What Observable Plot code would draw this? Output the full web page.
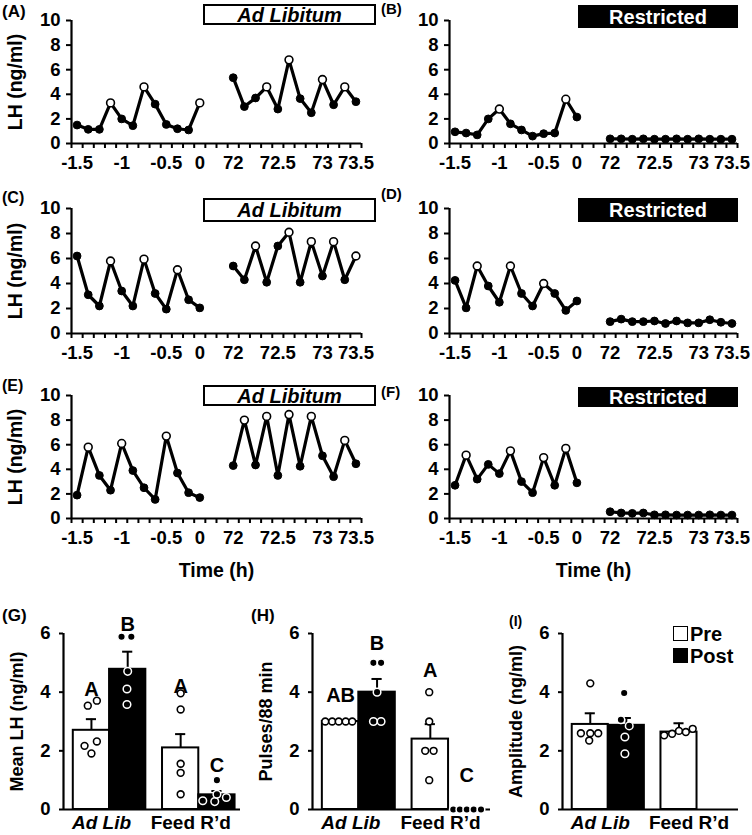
<!DOCTYPE html>
<html><head><meta charset="utf-8">
<script src="https://cdn.jsdelivr.net/npm/d3@7"></script>
<script src="https://cdn.jsdelivr.net/npm/@observablehq/plot@0.6"></script>
<style>
body{margin:0;background:#fff;}
#root{position:relative;width:752px;height:835px;font-family:"Liberation Sans",Arial,sans-serif;font-weight:bold;overflow:hidden;}
.lab{position:absolute;font-weight:bold;line-height:1;white-space:nowrap;}
.box{position:absolute;box-sizing:border-box;display:flex;align-items:center;justify-content:center;font-size:20px;font-weight:bold;line-height:1;}
.adlib{border:2px solid #000;background:#fff;font-style:italic;}
.restr{background:#000;color:#fff;}
.sw{position:absolute;box-sizing:border-box;width:15px;height:15px;border:1.5px solid #000;}
</style></head><body><div id="root"></div>
<script>
// ---------- DATA ----------
// x category axis (Excel style): 12 pre samples, 2 empty slots, 12 post samples (8-min sampling)
const xCats = ["-1.5","","","","-1","","","","-0.5","","","0","","","72","","","","72.5","","","","73","","","73.5"];
const lhTicks = [0, 2, 4, 6, 8, 10];
const barTicks = [0, 2, 4, 6];

// LH (ng/ml) per panel, pre (-88..0 min) and post (72 h ..) segments
const lhA_pre  = [1.5, 1.15, 1.15, 3.3, 2.0, 1.45, 4.6, 3.2, 1.55, 1.2, 1.1, 3.3];
const lhA_post = [5.35, 3.0, 3.7, 4.6, 2.8, 6.8, 3.65, 2.5, 5.2, 3.15, 4.6, 3.4];
const lhB_pre  = [0.95, 0.85, 0.7, 2.0, 2.8, 1.6, 1.1, 0.6, 0.8, 0.85, 3.6, 2.15];
const lhB_post = [0.38, 0.38, 0.35, 0.38, 0.35, 0.35, 0.38, 0.35, 0.38, 0.35, 0.35, 0.35];
const lhC_pre  = [6.2, 3.1, 2.2, 5.8, 3.4, 2.2, 5.95, 3.2, 1.95, 5.1, 2.7, 2.05];
const lhC_post = [5.4, 4.3, 7.0, 4.1, 7.0, 8.1, 4.1, 7.35, 4.6, 7.35, 4.3, 6.2];
const lhD_pre  = [4.25, 2.05, 5.4, 3.8, 2.5, 5.4, 3.2, 2.2, 4.0, 3.2, 1.85, 2.6];
const lhD_post = [0.95, 1.15, 0.95, 0.95, 1.0, 0.8, 1.0, 0.85, 0.85, 1.1, 0.9, 0.8];
const lhE_pre  = [1.9, 5.8, 3.5, 2.3, 6.1, 3.9, 2.5, 1.55, 6.7, 3.7, 2.1, 1.7];
const lhE_post = [4.3, 8.0, 4.35, 8.3, 3.5, 8.45, 4.25, 8.3, 5.1, 3.4, 6.35, 4.45];
const lhF_pre  = [2.7, 5.15, 3.2, 4.4, 3.65, 5.5, 3.0, 2.1, 4.95, 2.7, 5.7, 2.9];
const lhF_post = [0.55, 0.45, 0.42, 0.45, 0.3, 0.3, 0.28, 0.28, 0.28, 0.3, 0.28, 0.28];

// sample indices identified as pulse peaks (open circles)
const peaksA_pre = [3, 6, 11], peaksA_post = [3, 5, 8, 10];
const peaksB_pre = [4, 10],    peaksB_post = [];
const peaksC_pre = [3, 6, 9],  peaksC_post = [2, 5, 7, 9, 11];
const peaksD_pre = [2, 5, 8],  peaksD_post = [];
const peaksE_pre = [1, 4, 8],  peaksE_post = [1, 3, 5, 7, 10];
const peaksF_pre = [1, 5, 8, 10], peaksF_post = [];

// bar summaries: order = [Ad Lib Pre, Ad Lib Post, Feed R'd Pre, Feed R'd Post]
const groups = ["Ad Lib", "Feed R\u2019d"];
const phases = ["Pre", "Post"];
const meanLH = [2.7, 4.78, 2.1, 0.5];
const semLH  = [0.38, 0.6, 0.47, 0.13];
const ptsLH  = [[3.54, 3.71, 2.17, 2.32, 1.91], [5.89, 5.89, 4.71, 4.11, 3.58],
                [3.96, 3.41, 1.56, 1.25, 0.52], [1.0, 0.3, 0.27, 0.52, 0.41]];
const jitLH  = [[-0.1, 0.15, -0.19, 0.15, 0], [-0.17, 0.1, 0, -0.02, -0.02],
                [0, 0, 0, 0, 0], [0, -0.39, -0.06, 0, 0.26]];
const letLH  = ["A", "B", "A", "C"];
const letYLH = [4.1, 6.3, 4.2, 1.5];

const meanPulses = [3.0, 4.0, 2.4, 0];
const semPulses  = [0, 0.45, 0.51, 0];
const ptsPulses  = [[3, 3, 3, 3, 3], [5, 5, 4, 3, 3], [4, 3, 2, 2, 1], [0, 0, 0, 0, 0]];
const jitPulses  = [[-0.42, -0.23, -0.05, 0.14, 0.32], [-0.1, 0.11, 0, -0.1, 0.11],
                    [-0.03, -0.03, -0.14, 0.09, -0.03], [-0.37, -0.19, 0, 0.19, 0.39]];
const letPulses  = ["AB", "B", "A", "C"];
const letYPulses = [3.9, 5.65, 4.75, 1.15];

const meanAmp = [2.9, 2.87, 2.64, 0];
const semAmp  = [0.38, 0.25, 0.3, 0];
const ptsAmp  = [[4.3, 2.6, 2.6, 2.35, 2.6], [3.97, 3.06, 2.85, 2.47, 1.9],
                 [2.53, 2.58, 2.68, 2.64, 2.75], []];
const jitAmp  = [[0, -0.26, 0, -0.03, 0.22], [-0.06, -0.15, 0.08, -0.04, -0.04],
                 [-0.41, -0.19, 0, 0.19, 0.38], []];

// ---------- LAYOUT / DRAW ----------
const FONT = '"Liberation Sans", Arial, Helvetica, sans-serif';
const root = document.getElementById("root");
function place(el, left, top, w) {
  const d = document.createElement("div");
  d.style.cssText = `position:absolute;left:${left}px;top:${top}px;width:${w}px;`;
  d.appendChild(el); root.appendChild(d);
}
function html(cls, text, css) {
  const d = document.createElement("div");
  d.className = cls; d.textContent = text; d.style.cssText = css; root.appendChild(d);
}
const nPre = 12, gapSlots = 2;

function linePanel(pre, post, prePeaks, postPeaks, o) {
  const rows = [
    ...pre.map((v, i) => ({slot: i, lh: v, seg: "pre", peak: prePeaks.includes(i)})),
    ...post.map((v, i) => ({slot: i + nPre + gapSlots, lh: v, seg: "post", peak: postPeaks.includes(i)}))
  ];
  const xDom = [-0.5, xCats.length - 0.5];
  const marks = [
    Plot.ruleY([0], {strokeWidth: 2.2}),
    Plot.ruleX([xDom[0]], {strokeWidth: 2.2}),
    Plot.axisY({ticks: lhTicks, tickSize: 5, tickPadding: 6, strokeWidth: 2, label: null, fontSize: 18.5, tickFormat: d => String(d)}),
    Plot.axisX({ticks: d3.range(xDom[0], xDom[1] + 0.01, 1), tickSize: 5, strokeWidth: 2, tickFormat: () => "", label: null}),
    Plot.axisX({ticks: d3.range(xCats.length).filter(i => xCats[i]), tickSize: 0, tickPadding: 12,
                tickFormat: i => xCats[i], label: null, fontSize: 18.5}),
    Plot.line(rows, {x: "slot", y: "lh", z: "seg", stroke: "black", strokeWidth: 3.2}),
    Plot.dot(rows.filter(d => !d.peak), {x: "slot", y: "lh", r: 3.9, fill: "black", stroke: "black", strokeWidth: 1}),
    Plot.dot(rows.filter(d => d.peak), {x: "slot", y: "lh", r: 3.9, fill: "white", stroke: "black", strokeWidth: 1.6})
  ];
  if (o.ylabel) marks.push(Plot.text([o.ylabel], {text: d => d, frameAnchor: "left", dx: -56, rotate: -90,
    textAnchor: "middle", lineAnchor: "middle", fontSize: 19.5}));
  if (o.xlabel) marks.push(Plot.text([o.xlabel], {text: d => d, frameAnchor: "bottom", dy: 52,
    textAnchor: "middle", lineAnchor: "middle", fontSize: 19.5}));
  const p = Plot.plot({
    width: o.width, height: o.height,
    marginLeft: o.mL, marginRight: o.mR, marginTop: o.mT, marginBottom: o.mB,
    x: {domain: xDom}, y: {domain: [0, 10]},
    style: {fontFamily: FONT, fontWeight: "bold", fontSize: "18px", background: "white", color: "black", overflow: "visible"},
    marks
  });
  place(p, o.left, o.top, o.width);
}

const slot0 = 0.77, groupStep = 2.46;
function barPanel(means, sems, pts, jit, letters, letY, o) {
  const bars = [];
  groups.forEach((g, gi) => phases.forEach((ph, pi) => {
    const k = gi * 2 + pi;
    bars.push({g, ph, c: slot0 + gi * groupStep + pi, mean: means[k], sem: sems[k],
               letter: letters ? letters[k] : null, ly: letY ? letY[k] : null});
  }));
  const dots = bars.flatMap((b, k) => pts[k].map((v, j) => ({x: b.c + jit[k][j], y: v, ph: b.ph})));
  const eb = bars.filter(b => b.sem > 0);
  const marks = [
    Plot.rect(bars.filter(b => b.mean > 0 && b.ph === "Pre"), {x1: b => b.c - 0.5, x2: b => b.c + 0.5, y1: 0, y2: "mean",
      fill: "white", stroke: "black", strokeWidth: 2}),
    Plot.rect(bars.filter(b => b.mean > 0 && b.ph === "Post"), {x1: b => b.c - 0.5, x2: b => b.c + 0.5, y1: 0, y2: "mean",
      fill: "black", stroke: "black", strokeWidth: 2}),
    Plot.ruleX(eb, {x: "c", y1: "mean", y2: b => b.mean + b.sem, strokeWidth: 2}),
    Plot.ruleY(eb, {y: b => b.mean + b.sem, x1: b => b.c - 0.14, x2: b => b.c + 0.14, strokeWidth: 2}),
    Plot.ruleY([0], {strokeWidth: 2.2}),
    Plot.ruleX([0], {strokeWidth: 2.2}),
    Plot.axisY({ticks: barTicks, tickSize: 4, tickPadding: 9, strokeWidth: 2, label: null, fontSize: 18.5, tickFormat: d => String(d)}),
    Plot.dot(dots.filter(d => d.ph === "Pre"), {x: "x", y: "y", r: 3.4, fill: "white", stroke: "black", strokeWidth: 1.6}),
    Plot.dot(dots.filter(d => d.ph === "Post"), {x: "x", y: "y", r: 3.8, fill: "black", stroke: "white", strokeWidth: 1.5}),
    Plot.text([groups[0]], {x: slot0 + 0.5, y: 0, dy: 6, dx: -8, text: d => d, lineAnchor: "top", fontSize: 19, fontStyle: "italic"}),
    Plot.text([groups[1]], {x: slot0 + groupStep + 0.5, y: 0, dy: 6, dx: -8, text: d => d, lineAnchor: "top", fontSize: 19}),
    Plot.text([o.ylabel], {text: d => d, frameAnchor: "left", dx: -46, rotate: -90, textAnchor: "middle", lineAnchor: "middle", fontSize: 18})
  ];
  if (letters) marks.push(Plot.text(bars.filter(b => b.letter), {x: "c", y: "ly", text: "letter", fontSize: 20}));
  const p = Plot.plot({
    width: o.width, height: o.height,
    marginLeft: o.mL, marginRight: o.mR, marginTop: 43, marginBottom: 26,
    x: {domain: [0, 4.88], axis: null}, y: {domain: [0, 6]},
    style: {fontFamily: FONT, fontWeight: "bold", fontSize: "18px", background: "white", color: "black", overflow: "visible"},
    marks
  });
  place(p, o.left, o.top, o.width);
}

// rows of line panels
const rowsCfg = [
  {top: 0, height: 175, mB: 32},
  {top: 188, height: 177, mB: 32},
  {top: 375, height: 205, mB: 62}
];
const leftCol = {left: 0, width: 375, mL: 71, mR: 14, mT: 20};
const rightCol = {left: 375, width: 377, mL: 74, mR: 15, mT: 20};
linePanel(lhA_pre, lhA_post, peaksA_pre, peaksA_post, {...leftCol, ...rowsCfg[0], ylabel: "LH (ng/ml)"});
linePanel(lhB_pre, lhB_post, peaksB_pre, peaksB_post, {...rightCol, ...rowsCfg[0]});
linePanel(lhC_pre, lhC_post, peaksC_pre, peaksC_post, {...leftCol, ...rowsCfg[1], ylabel: "LH (ng/ml)"});
linePanel(lhD_pre, lhD_post, peaksD_pre, peaksD_post, {...rightCol, ...rowsCfg[1]});
linePanel(lhE_pre, lhE_post, peaksE_pre, peaksE_post, {...leftCol, ...rowsCfg[2], ylabel: "LH (ng/ml)", xlabel: "Time (h)"});
linePanel(lhF_pre, lhF_post, peaksF_pre, peaksF_post, {...rightCol, ...rowsCfg[2], xlabel: "Time (h)"});

barPanel(meanLH, semLH, ptsLH, jitLH, letLH, letYLH, {left: 0, top: 590, width: 250, height: 245, mL: 63, mR: 10, ylabel: "Mean LH (ng/ml)"});
barPanel(meanPulses, semPulses, ptsPulses, jitPulses, letPulses, letYPulses, {left: 250, top: 590, width: 250, height: 245, mL: 62, mR: 10, ylabel: "Pulses/88 min"});
barPanel(meanAmp, semAmp, ptsAmp, jitAmp, null, null, {left: 500, top: 590, width: 252, height: 245, mL: 62, mR: 14, ylabel: "Amplitude (ng/ml)"});

// condition boxes
[[4, 25], [198, 222], [385, 406]].forEach(([t, b]) => {
  html("box adlib", "Ad Libitum", `left:203px;top:${t}px;width:173px;height:${b - t}px;`);
});
[[5, 28], [198, 222], [387, 407]].forEach(([t, b]) => {
  html("box restr", "Restricted", `left:578px;top:${t}px;width:160px;height:${b - t}px;`);
});
// panel letters
[["(A)", 2, 3, 17], ["(B)", 381, 1, 15], ["(C)", 2, 190, 16], ["(D)", 381, 186, 15],
 ["(E)", 2, 378, 16], ["(F)", 381, 384, 15], ["(G)", 2, 607, 17], ["(H)", 251, 607, 17], ["(I)", 509, 614, 14]]
.forEach(([t, x, y, fs]) => html("lab", t, `left:${x}px;top:${y}px;font-size:${fs}px;`));
// legend (panel I)
html("sw", "", "left:673px;top:626px;background:#fff;");
html("sw", "", "left:673px;top:648px;background:#000;");
html("lab", "Pre", "left:690px;top:624px;font-size:20px;");
html("lab", "Post", "left:690px;top:646px;font-size:20px;");
</script></body></html>
